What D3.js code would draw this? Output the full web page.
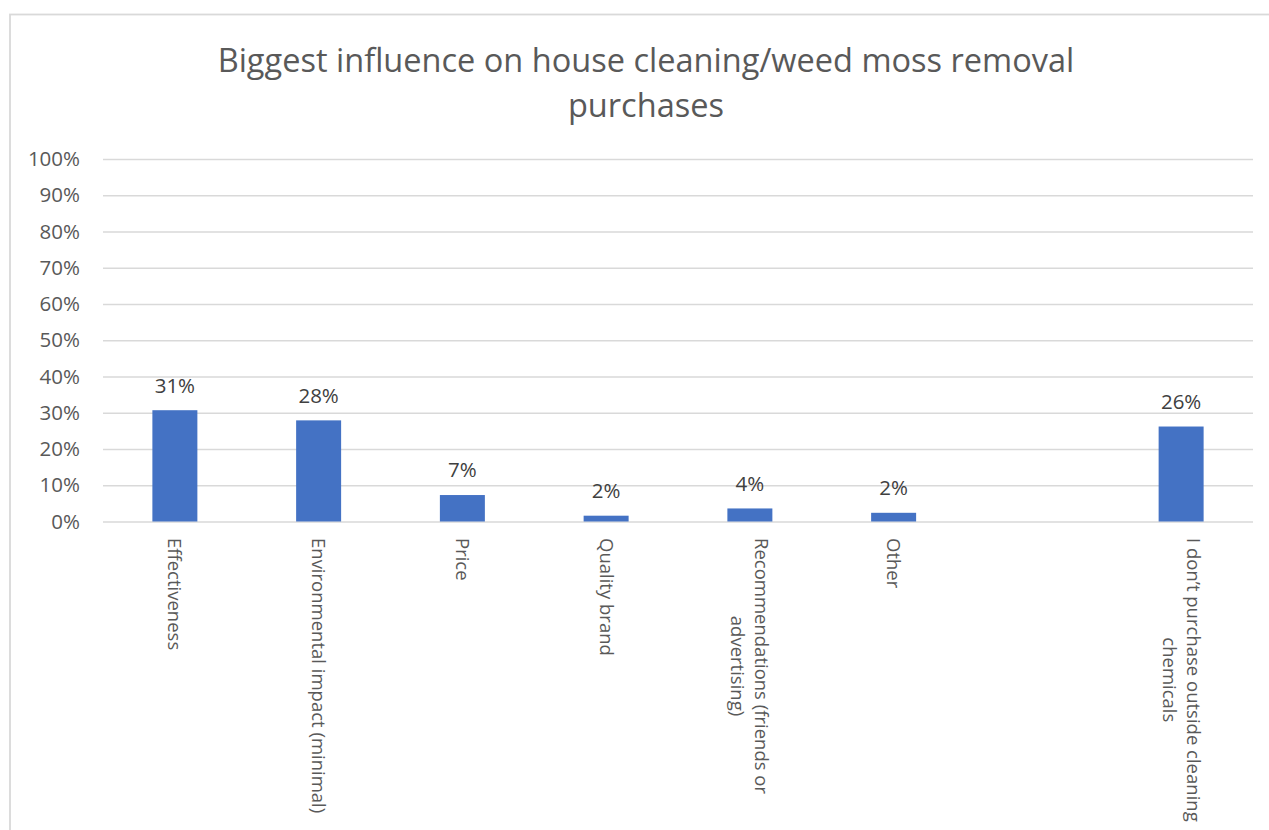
<!DOCTYPE html>
<html>
<head>
<meta charset="utf-8">
<script src="https://cdn.jsdelivr.net/npm/d3@7"></script>
<style>
  html, body { margin: 0; padding: 0; background: #ffffff; }
  svg { display: block; font-family: "Open Sans", "Noto Sans", sans-serif; }
</style>
</head>
<body>
<svg id="chart" width="1269" height="830"></svg>
<script>
// ---- data ----
const titleLines = ["Biggest influence on house cleaning/weed moss removal", "purchases"];
const categories = [
  "Effectiveness",
  "Environmental impact (minimal)",
  "Price",
  "Quality brand",
  "Recommendations (friends or advertising)",
  "Other",
  "",
  "I don\u2019t purchase outside cleaning chemicals"
];
const values = [0.307, 0.279, 0.073, 0.016, 0.036, 0.024, null, 0.262];
const yTicks = [0, 0.1, 0.2, 0.3, 0.4, 0.5, 0.6, 0.7, 0.8, 0.9, 1.0];

// ---- layout ----
const W = 1269, H = 830;
const plot = { left: 103, right: 1253, top: 159, bottom: 521.5 };
const svg = d3.select("#chart");

// frame
svg.append("rect")
  .attr("x", 10).attr("y", 14.5)
  .attr("width", 1400).attr("height", 1000)
  .attr("fill", "#fff").attr("stroke", "#d9d9d9").attr("stroke-width", 1.8);

// title
const titleSize = 31;
const title = svg.append("text")
  .attr("text-anchor", "middle")
  .attr("fill", "#595959")
  .style("font-size", titleSize + "px");
titleLines.forEach((t, i) => {
  title.append("tspan").attr("x", 646).attr("y", 72 + i * 45).text(t);
});
// fit width of first line to reference
const firstW = title.select("tspan").node().getComputedTextLength();
const fitted = titleSize * 857 / firstW;
title.style("font-size", fitted + "px");

// scales
const x = d3.scaleBand()
  .domain(categories)
  .range([plot.left, plot.right])
  .paddingInner(0.687)
  .paddingOuter(0.3435);
const y = d3.scaleLinear().domain([0, 1]).range([plot.bottom, plot.top]);

// gridlines
const yAxis = d3.axisLeft(y).tickValues(yTicks).tickFormat(d3.format(".0%"))
  .tickSize(-(plot.right - plot.left)).tickPadding(23);
const gy = svg.append("g").attr("transform", `translate(${plot.left},0)`).call(yAxis);
gy.select(".domain").remove();
gy.selectAll(".tick line").attr("stroke", "#d9d9d9").attr("stroke-width", 1.6);
gy.selectAll(".tick text")
  .attr("fill", "#595959")
  .style("font-size", "20.5px")
  .style("font-family", "\"Open Sans\", sans-serif");

// bars
const data = categories.map((c, i) => ({ c, v: values[i] })).filter(d => d.v != null);
svg.append("g").selectAll("rect").data(data).join("rect")
  .attr("x", d => x(d.c))
  .attr("width", x.bandwidth())
  .attr("y", d => y(d.v))
  .attr("height", d => y(0) - y(d.v))
  .attr("fill", "#4472c4");

// data labels
svg.append("g").selectAll("text").data(data).join("text")
  .attr("x", d => x(d.c) + x.bandwidth() / 2)
  .attr("y", d => y(d.v) - 17.7)
  .attr("text-anchor", "middle")
  .attr("fill", "#404040")
  .style("font-size", "20.5px")
  .text(d => d3.format(".0%")(d.v));

// category labels (rotated, wrapped)
const catSize = 18.5;
const maxLen = 292;
const lh = 24;
const measure = svg.append("text").style("font-size", catSize + "px").attr("opacity", 0);
function textW(s) { measure.text(s); return measure.node().getComputedTextLength(); }
function wrap(s) {
  const words = s.split(" ");
  const lines = [];
  let cur = "";
  words.forEach(w => {
    const t = cur ? cur + " " + w : w;
    if (cur && textW(t) > maxLen) { lines.push(cur); cur = w; } else { cur = t; }
  });
  if (cur) lines.push(cur);
  return lines;
}
categories.forEach(c => {
  if (!c) return;
  const lines = wrap(c);
  const blockLen = d3.max(lines, l => textW(l));
  const g = svg.append("g")
    .attr("transform", `translate(${x(c) + x.bandwidth() / 2},${plot.bottom + 16.5}) rotate(90)`);
  lines.forEach((l, i) => {
    g.append("text")
      .attr("x", blockLen / 2)
      .attr("y", (i - (lines.length - 1) / 2) * lh)
      .attr("dy", "0.35em")
      .attr("text-anchor", "middle")
      .attr("fill", "#595959")
      .style("font-size", catSize + "px")
      .text(l);
  });
});
measure.remove();
</script>
</body>
</html>
